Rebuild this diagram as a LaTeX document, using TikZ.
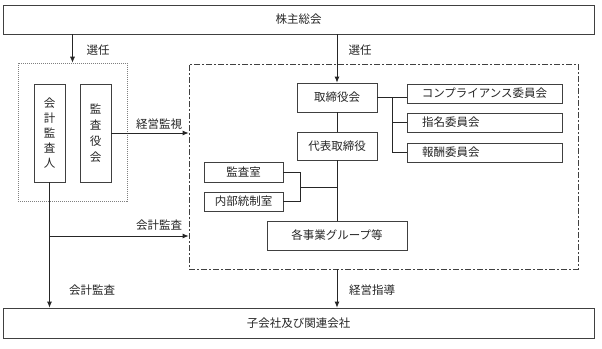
\documentclass[tikz,border=0pt]{standalone}
\usepackage{fontspec}
\setmainfont{Noto Sans CJK JP}
\usetikzlibrary{arrows.meta}
\begin{document}
\begin{tikzpicture}[x=1pt,y=-1pt,
  every node/.style={font=\fontsize{11.5pt}{14pt}\selectfont, text=black!85, inner sep=0pt},
  box/.style={draw=black!75, line width=0.8pt, rectangle, fill=white},
  vbox/.style={box, minimum width=31pt, minimum height=98pt, align=center},
  lbox/.style={box, minimum width=155pt, minimum height=19pt, text width=125pt, align=left, inner xsep=0pt},
  ln/.style={draw=black!85, line width=0.8pt},
  arr/.style={ln, -{Latex[length=6pt,width=5pt]}},
  lab/.style={}
]
\useasboundingbox[fill=white] (0,0) rectangle (602,348);
% group frames
\node[draw=black!50, line width=0.6pt, dash pattern=on 1pt off 1pt, minimum width=109pt, minimum height=138pt] (dot) at (72.5,132) {};
\node[draw=black!75, line width=0.8pt, dash pattern=on 6pt off 2pt on 2pt off 2pt, minimum width=389pt, minimum height=205pt] (dd) at (383.5,166.5) {};
% main boxes
\node[box, minimum width=591pt, minimum height=29pt] (top) at (298.5,19.5) {株主総会};
\node[box, minimum width=591pt, minimum height=30pt] (bot) at (298.5,323) {子会社及び関連会社};
\node[vbox, font=\fontsize{11.5pt}{15pt}\selectfont] (kk) at (49.5,133) {会\\計\\監\\査\\人};
\node[vbox, font=\fontsize{11.5pt}{16pt}\selectfont] (ky) at (95.5,133) {監\\査\\役\\会};
\node[box, minimum width=80pt, minimum height=29pt] (tb) at (337,97.5) {取締役会};
\node[box, minimum width=80pt, minimum height=28pt] (dh) at (337,146) {代表取締役};
\node[box, minimum width=155pt, minimum height=19pt] (cp) at (484.5,93.5) {コンプライアンス委員会};
\node[lbox] (sm) at (484.5,122.5) {指名委員会};
\node[lbox] (hs) at (484.5,152.5) {報酬委員会};
\node[box, minimum width=79pt, minimum height=20pt] (ks) at (243.5,172) {監査室};
\node[box, minimum width=79pt, minimum height=19pt] (nb) at (243.5,201.5) {内部統制室};
\node[box, minimum width=140pt, minimum height=29pt] (jg) at (337,235.5) {各事業グループ等};
% coordinates
\coordinate (cx) at (392,0);
\coordinate (kx) at (300,0);
\coordinate (mid) at (337,187);
\coordinate (br) at (49.5,236);
% arrows
\draw[arr] (dot.north |- top.south) -- (dot.north);
\draw[arr] (tb.north |- top.south) -- (tb.north);
\draw[arr] (ky.east) -- (ky.east -| dd.west);
\draw[arr] (kk.south) -- (kk.south |- bot.north);
\draw[arr] (br) -- (br -| dd.west);
\draw[arr] (tb.south |- dd.south) -- (tb.south |- bot.north);
% connectors
\draw[ln] (tb.south) -- (dh.north);
\draw[ln] (dh.south) -- (jg.north);
\draw[ln] (tb.east) -- (tb.east -| cp.west);
\draw[ln] (cx |- tb.east) -- (cx |- hs.west) -- (hs.west);
\draw[ln] (cx |- sm.west) -- (sm.west);
\draw[ln] (ks.east) -- (kx |- ks.east) -- (kx |- nb.east) -- (nb.east);
\draw[ln] (kx |- mid) -- (mid);
% labels
\node (l1) at (98,50) {選任};
\node (l2) at (360,50) {選任};
\node (l3) at (159,124) {経営監視};
\node (l4) at (159,225) {会計監査};
\node (l5) at (92,290) {会計監査};
\node (l6) at (372,290) {経営指導};
\end{tikzpicture}
\end{document}
